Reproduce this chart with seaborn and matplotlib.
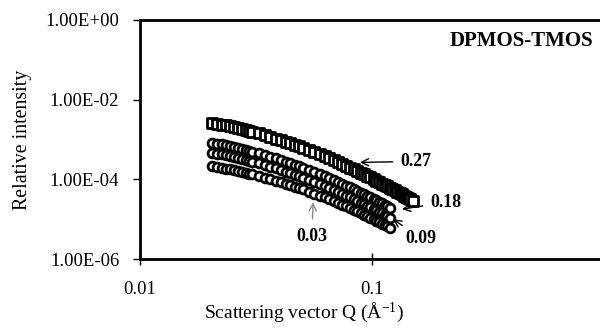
import numpy as np
import pandas as pd
import matplotlib
matplotlib.use("Agg")
import matplotlib.pyplot as plt
import seaborn as sns

# ---- data ----
Q = [0.0205, 0.0215, 0.0225, 0.0235, 0.0245, 0.0255, 0.0265, 0.0275, 0.0285, 0.0295,
     0.0305, 0.0325, 0.0345, 0.0365, 0.0385, 0.0405, 0.0425, 0.0445, 0.0465, 0.0485,
     0.0505, 0.0535, 0.0565, 0.0595, 0.0625, 0.0655, 0.0685, 0.0715, 0.0745, 0.0775,
     0.0805, 0.0835, 0.0865, 0.0895, 0.0925, 0.0955, 0.0985, 0.1015, 0.1045, 0.1075,
     0.1105, 0.1135, 0.1165, 0.1195, 0.1225, 0.1255, 0.1285, 0.1315, 0.1345, 0.1375,
     0.1405, 0.1435, 0.1465, 0.1495]

# log10 of relative intensity
logI_027 = [-2.580, -2.603, -2.625, -2.648, -2.671, -2.694, -2.716, -2.739, -2.761, -2.784,
            -2.806, -2.849, -2.892, -2.935, -2.976, -3.017, -3.057, -3.097, -3.136, -3.174,
            -3.211, -3.266, -3.320, -3.372, -3.423, -3.472, -3.521, -3.568, -3.615, -3.660,
            -3.705, -3.748, -3.791, -3.833, -3.874, -3.914, -3.953, -3.992, -4.030, -4.068,
            -4.105, -4.141, -4.177, -4.212, -4.246, -4.280, -4.314, -4.347, -4.380, -4.412,
            -4.443, -4.475, -4.505, -4.536]
logI_018 = [-3.080, -3.103, -3.125, -3.148, -3.171, -3.194, -3.216, -3.239, -3.261, -3.284,
            -3.306, -3.349, -3.392, -3.435, -3.476, -3.517, -3.557, -3.597, -3.636, -3.674,
            -3.711, -3.766, -3.820, -3.872, -3.923, -3.972, -4.021, -4.068, -4.115, -4.160,
            -4.205, -4.248, -4.291, -4.333, -4.374, -4.414, -4.453, -4.492, -4.530, -4.568,
            -4.605, -4.641, -4.677, -4.712]
logI_009 = [-3.330, -3.353, -3.375, -3.398, -3.421, -3.444, -3.466, -3.489, -3.511, -3.534,
            -3.556, -3.599, -3.642, -3.685, -3.726, -3.767, -3.807, -3.847, -3.886, -3.924,
            -3.961, -4.016, -4.070, -4.122, -4.173, -4.222, -4.271, -4.318, -4.365, -4.410,
            -4.455, -4.498, -4.541, -4.583, -4.624, -4.664, -4.703, -4.742, -4.780, -4.818,
            -4.855, -4.891, -4.927, -4.962]
logI_003 = [-3.670, -3.691, -3.710, -3.731, -3.752, -3.773, -3.793, -3.814, -3.834, -3.855,
            -3.876, -3.916, -3.955, -3.996, -4.034, -4.072, -4.110, -4.147, -4.184, -4.220,
            -4.255, -4.307, -4.358, -4.408, -4.456, -4.503, -4.549, -4.594, -4.639, -4.682,
            -4.725, -4.766, -4.807, -4.848, -4.887, -4.926, -4.963, -5.000, -5.037, -5.073,
            -5.109, -5.144, -5.178, -5.212]

series = [
    ("0.03", logI_003, "o"),
    ("0.09", logI_009, "o"),
    ("0.18", logI_018, "o"),
    ("0.27", logI_027, "s"),
]

ytick_vals = [1e0, 1e-2, 1e-4, 1e-6]
ytick_labels = ["1.00E+00", "1.00E-02", "1.00E-04", "1.00E-06"]
xtick_vals = [0.01, 0.1]
xtick_labels = ["0.01", "0.1"]

# ---- plotting ----
sns.set_theme(style="white")
plt.rcParams['font.family'] = ['Liberation Serif', 'DejaVu Serif']
plt.rcParams['mathtext.fontset'] = 'custom'
plt.rcParams['mathtext.rm'] = 'Liberation Serif'
plt.rcParams['mathtext.it'] = 'Liberation Serif:italic'
plt.rcParams['mathtext.bf'] = 'Liberation Serif:bold'

fig = plt.figure(figsize=(6.0, 3.28), dpi=100)
ax = fig.add_axes([140/600, 1 - 259/328, 464/600, 239/328])

for name, logs, mk in series:
    df = pd.DataFrame({"Q": Q[:len(logs)], "I": 10 ** np.array(logs)})
    size = 42 if mk == "s" else 40
    sns.scatterplot(data=df, x="Q", y="I", ax=ax, marker=mk, s=size,
                    color="white", edgecolor="black", linewidth=2.0, legend=False,
                    zorder=3)

ax.set_xscale("log")
ax.set_yscale("log")
ax.set_xlim(0.01, 1)
ax.set_ylim(1e-6, 1e0)

ax.set_xticks(xtick_vals)
ax.set_xticklabels(xtick_labels)
ax.set_yticks(ytick_vals)
ax.set_yticklabels(ytick_labels)
ax.minorticks_off()
ax.tick_params(axis="x", direction="inout", length=8, width=1, pad=12,
               labelsize=13.5, colors="black")
ax.tick_params(axis="y", direction="out", length=5, width=1, pad=10,
               labelsize=13.5, colors="black")
ax.tick_params(axis="both", which="both", left=True, bottom=True)

for side in ["left", "bottom", "top", "right"]:
    ax.spines[side].set_color("black")
    ax.spines[side].set_linewidth(2)

ax.set_xlabel("Scattering vector Q (Å$^{\\mathregular{-1}}$)", fontsize=14, color="black")
ax.set_ylabel("Relative intensity", fontsize=14.3, color="black")
ax.xaxis.set_label_coords(0.353, -0.172)
ax.yaxis.set_label_coords(-0.233, 0.5)
ax.grid(False)

ax.text(0.976, 0.914, "DPMOS-TMOS", transform=ax.transAxes, ha="right", va="center",
        fontsize=15, fontweight="bold", color="black")

ann_kw = dict(fontsize=12.8, fontweight="bold", color="black")
ax.annotate("0.27", xy=(0.0887, 2.66e-4), xytext=(0.132, 2.82e-4), ha="left", va="center",
            arrowprops=dict(arrowstyle="->", color="black", lw=1, shrinkA=3, shrinkB=0), **ann_kw)
ax.annotate("0.18", xy=(0.1346, 1.78e-5), xytext=(0.178, 2.66e-5), ha="left", va="center",
            arrowprops=dict(arrowstyle="->", color="black", lw=1, shrinkA=3, shrinkB=0), **ann_kw)
ax.annotate("0.09", xy=(0.1232, 1.0e-5), xytext=(0.1387, 3.35e-6), ha="left", va="center",
            arrowprops=dict(arrowstyle="->", color="black", lw=1, shrinkA=1, shrinkB=0), **ann_kw)
ax.annotate("0.03", xy=(0.0557, 2.66e-5), xytext=(0.0551, 3.76e-6), ha="center", va="center",
            arrowprops=dict(arrowstyle="->", color="#888888", lw=1, shrinkA=4, shrinkB=0), **ann_kw)

fig.savefig("out.png", dpi=100, facecolor="white")
